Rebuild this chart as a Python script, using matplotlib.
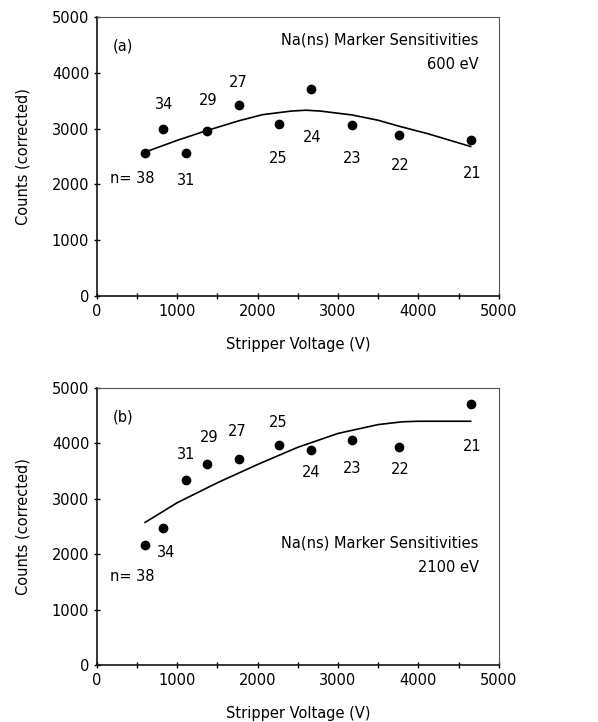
import matplotlib
matplotlib.use('Agg')
import matplotlib.pyplot as plt

plt.rcParams['font.family'] = ['DejaVu Sans']

# stripper voltage (V) and charge state n for each point
volts = [600, 820, 1110, 1367, 1765, 2262, 2660, 3173, 3757, 4652]
n_vals = ['n= 38', '34', '31', '29', '27', '25', '24', '23', '22', '21']

# panel (a) 600 eV
counts_a = [2570, 3000, 2560, 2960, 3420, 3080, 3710, 3060, 2880, 2800]
curve_x_a = [600, 1000, 1367, 1765, 2060, 2420, 2600, 2780, 3175, 3500, 3755, 4115, 4650]
curve_y_a = [2580, 2790, 2965, 3140, 3250, 3315, 3330, 3315, 3245, 3150, 3045, 2910, 2680]

# panel (b) 2100 eV
counts_b = [2160, 2470, 3340, 3620, 3710, 3980, 3890, 4070, 3940, 4710]
curve_x_b = [600, 1000, 1500, 2000, 2500, 3000, 3500, 3800, 4000, 4650]
curve_y_b = [2575, 2930, 3290, 3620, 3930, 4180, 4340, 4390, 4400, 4400]

# label offsets in pixels (dx, dy)
offs_a = [(-13, -26), (1, 24), (0, -27), (1, 30), (0, 23), (0, -34), (2, -48), (0, -33), (1, -30), (1, -34)]
offs_b = [(-13, -31), (3, -24), (0, 25), (2, 27), (-1, 28), (0, 22), (1, -23), (0, -29), (1, -23), (1, -42)]

fig = plt.figure(figsize=(5.98, 7.22), dpi=100)
ax1 = fig.add_axes([0.162, 0.590, 0.672, 0.3864])
ax2 = fig.add_axes([0.162, 0.0789, 0.672, 0.3837])

def panel(ax, counts, cx, cy, offs, tag, energy, txt_y):
    ax.plot(cx, cy, color='black', lw=1.2)
    ax.plot(volts, counts, 'o', color='black', ms=6)
    for x, y, lab, (dx, dy) in zip(volts, counts, n_vals, offs):
        ax.annotate(lab, (x, y), xytext=(dx * 0.72, dy * 0.72), textcoords='offset points',
                    ha='center', va='center', fontsize=10.5)
    ax.set_xlim(0, 5000)
    ax.set_ylim(0, 5000)
    ax.set_xticks(range(0, 5001, 1000))
    ax.set_xticks(range(500, 5000, 1000), minor=True)
    ax.set_yticks(range(0, 5001, 1000))
    ax.tick_params(which='both', direction='inout', length=5, width=1, labelsize=10.5, pad=3)
    for s in ['top', 'right']:
        ax.spines[s].set_color('#555555')
        ax.spines[s].set_linewidth(0.8)
    for s in ['left', 'bottom']:
        ax.spines[s].set_linewidth(1.1)
    ax.set_ylabel('Counts (corrected)', fontsize=10.5, labelpad=15)
    ax.set_xlabel('Stripper Voltage (V)', fontsize=10.5, labelpad=13)
    ax.text(0.065, 0.895, tag, transform=ax.transAxes, ha='center', va='center', fontsize=10.5)
    ax.text(0.95, txt_y, 'Na(ns) Marker Sensitivities', transform=ax.transAxes,
            ha='right', va='center', fontsize=10.5)
    ax.text(0.95, txt_y - 0.088, energy, transform=ax.transAxes,
            ha='right', va='center', fontsize=10.5)

panel(ax1, counts_a, curve_x_a, curve_y_a, offs_a, '(a)', '600 eV', 0.918)
panel(ax2, counts_b, curve_x_b, curve_y_b, offs_b, '(b)', '2100 eV', 0.44)

fig.savefig('out.png', dpi=100)
